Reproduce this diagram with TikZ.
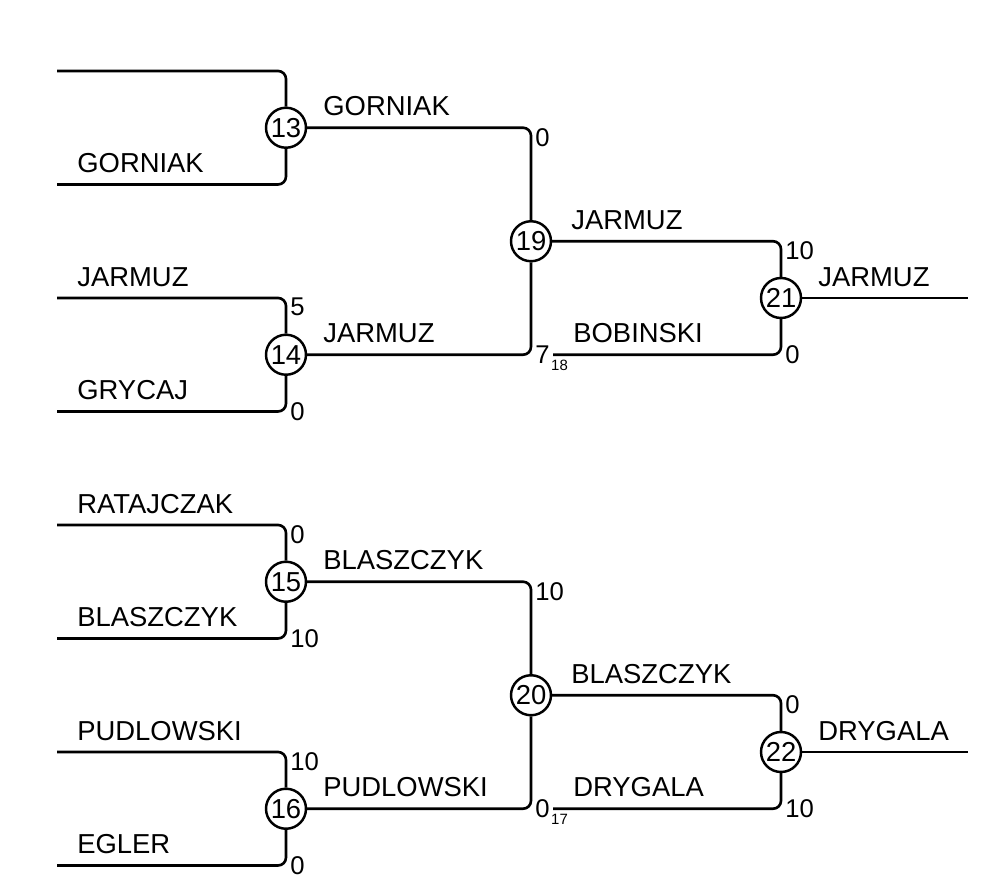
\documentclass[tikz,border=0pt]{standalone}
\usepackage{fontspec}
\setmainfont{Liberation Sans}
\newcommand{\player}[4]{%
  \coordinate (#1) at (#2,#3);
  \node[who] (#1n) at ({#2+0.4},{#3-0.21}) {#4};}

\begin{document}
\begin{tikzpicture}[x=1cm, y=-1.135cm,
    who/.style={anchor=base west, inner sep=0, font=\fontsize{15.6}{18}\selectfont},
    game/.style={circle, draw, line width=1.4pt, minimum size=0.8cm, inner sep=0, font=\fontsize{15.6}{18}\selectfont},
    pts/.style={inner sep=0, font=\fontsize{14.6}{16}\selectfont},
    subpts/.style={inner sep=0, anchor=base west, font=\fontsize{8.5}{9}\selectfont},
    wire/.style={line width=1.5pt, rounded corners=0.16cm}]
  \useasboundingbox (0,-1.251) rectangle (19.66,14.273);
  \node[game] (m13) at (5.72,1) {13};
  \node[game] (m14) at (5.72,5) {14};
  \node[game] (m15) at (5.72,9) {15};
  \node[game] (m16) at (5.72,13) {16};
  \node[game] (m19) at (10.62,3) {19};
  \node[game] (m20) at (10.62,11) {20};
  \node[game] (m21) at (15.62,4) {21};
  \node[game] (m22) at (15.62,12) {22};
  % first round
  \coordinate (p13a) at (1.14,0);
  \player{p13b}{1.14}{2}{GORNIAK}
  \player{p14a}{1.14}{4}{JARMUZ}
  \player{p14b}{1.14}{6}{GRYCAJ}
  \player{p15a}{1.14}{8}{RATAJCZAK}
  \player{p15b}{1.14}{10}{BLASZCZYK}
  \player{p16a}{1.14}{12}{PUDLOWSKI}
  \player{p16b}{1.14}{14}{EGLER}
  \foreach \g in {13,14,15,16} {
    \draw[wire] (p\g a) -| (m\g);
    \draw[wire] (p\g b) -| (m\g);
  }
  % later rounds
  \node[who] (w13) at (6.46,0.79) {GORNIAK};
  \node[who] (w14) at (6.46,4.79) {JARMUZ};
  \node[who] (w15) at (6.46,8.79) {BLASZCZYK};
  \node[who] (w16) at (6.46,12.79) {PUDLOWSKI};
  \node[who] (w19) at (11.42,2.79) {JARMUZ};
  \node[who] (w20) at (11.42,10.79) {BLASZCZYK};
  \player{p21b}{11.06}{5}{BOBINSKI}
  \player{p22b}{11.06}{13}{DRYGALA}
  \node[who] (w21) at (16.36,3.79) {JARMUZ};
  \node[who] (w22) at (16.36,11.79) {DRYGALA};
  \coordinate (e21) at (19.36,4);
  \coordinate (e22) at (19.36,12);
  \draw[wire] (m13) -| (m19);
  \draw[wire] (m14) -| (m19);
  \draw[wire] (m15) -| (m20);
  \draw[wire] (m16) -| (m20);
  \draw[wire] (m19) -| (m21);
  \draw[wire] (p21b) -| (m21);
  \draw[wire] (m20) -| (m22);
  \draw[wire] (p22b) -| (m22);
  \draw[wire] (m21) -- (e21);
  \draw[wire] (m22) -- (e22);
  % scores
  \node[pts, anchor=north west] (s14a) at (5.80,4) {5};
  \node[pts, anchor=west] (s14b) at (5.80,6) {0};
  \node[pts, anchor=north west] (s15a) at (5.80,8) {0};
  \node[pts, anchor=west] (s15b) at (5.80,10) {10};
  \node[pts, anchor=north west] (s16a) at (5.80,12) {10};
  \node[pts, anchor=west] (s16b) at (5.80,14) {0};
  \node[pts, anchor=north west] (s19a) at (10.70,1) {0};
  \node[pts, anchor=west] (s19b) at (10.70,5) {7};
  \node[subpts] (s19c) at ([xshift=0.5pt, yshift=-4pt]s19b.base east) {18};
  \node[pts, anchor=north west] (s20a) at (10.70,9) {10};
  \node[pts, anchor=west] (s20b) at (10.70,13) {0};
  \node[subpts] (s20c) at ([xshift=0.5pt, yshift=-4pt]s20b.base east) {17};
  \node[pts, anchor=north west] (s21a) at (15.70,3) {10};
  \node[pts, anchor=west] (s21b) at (15.70,5) {0};
  \node[pts, anchor=north west] (s22a) at (15.70,11) {0};
  \node[pts, anchor=west] (s22b) at (15.70,13) {10};
\end{tikzpicture}
\end{document}
